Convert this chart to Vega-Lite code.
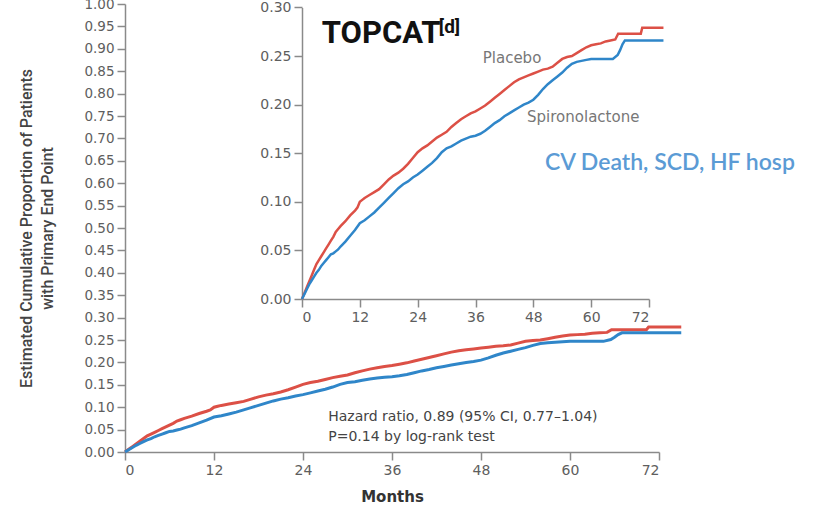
{
  "$schema": "https://vega.github.io/schema/vega-lite/v6.json",
  "width": 534,
  "height": 448,
  "autosize": {"type": "none"},
  "padding": {"left": 125, "top": 4, "right": 160, "bottom": 54},
  "background": "white",
  "config": {
    "view": {"stroke": null},
    "axis": {
      "grid": false,
      "domainColor": "#8a8a8a",
      "domainWidth": 1.5,
      "tickColor": "#8a8a8a",
      "tickWidth": 1.5,
      "tickSize": 8,
      "labelFont": "DejaVu Sans",
      "labelFontSize": 14,
      "labelColor": "#5e5e5e",
      "labelPadding": 3,
      "labelOverlap": false
    },
    "text": {"font": "DejaVu Sans"}
  },
  "datasets": {
    "km": [
      {"arm": "Placebo", "month": 0, "p": 0},
      {"arm": "Placebo", "month": 0.5, "p": 0.006},
      {"arm": "Placebo", "month": 1, "p": 0.012},
      {"arm": "Placebo", "month": 1.5, "p": 0.018},
      {"arm": "Placebo", "month": 2, "p": 0.024},
      {"arm": "Placebo", "month": 2.5, "p": 0.03},
      {"arm": "Placebo", "month": 3, "p": 0.036},
      {"arm": "Placebo", "month": 3.5, "p": 0.04},
      {"arm": "Placebo", "month": 4, "p": 0.044},
      {"arm": "Placebo", "month": 4.5, "p": 0.048},
      {"arm": "Placebo", "month": 5, "p": 0.052},
      {"arm": "Placebo", "month": 5.5, "p": 0.056},
      {"arm": "Placebo", "month": 6, "p": 0.06},
      {"arm": "Placebo", "month": 6.5, "p": 0.064},
      {"arm": "Placebo", "month": 7, "p": 0.069},
      {"arm": "Placebo", "month": 7.5, "p": 0.072},
      {"arm": "Placebo", "month": 8, "p": 0.075},
      {"arm": "Placebo", "month": 9, "p": 0.08},
      {"arm": "Placebo", "month": 10, "p": 0.086},
      {"arm": "Placebo", "month": 11, "p": 0.091},
      {"arm": "Placebo", "month": 11.5, "p": 0.094},
      {"arm": "Placebo", "month": 12, "p": 0.1},
      {"arm": "Placebo", "month": 12.5, "p": 0.102},
      {"arm": "Placebo", "month": 13, "p": 0.104},
      {"arm": "Placebo", "month": 14, "p": 0.107},
      {"arm": "Placebo", "month": 15, "p": 0.11},
      {"arm": "Placebo", "month": 16, "p": 0.113},
      {"arm": "Placebo", "month": 17, "p": 0.118},
      {"arm": "Placebo", "month": 18, "p": 0.123},
      {"arm": "Placebo", "month": 19, "p": 0.127},
      {"arm": "Placebo", "month": 20, "p": 0.13},
      {"arm": "Placebo", "month": 21, "p": 0.134},
      {"arm": "Placebo", "month": 22, "p": 0.139},
      {"arm": "Placebo", "month": 23, "p": 0.145},
      {"arm": "Placebo", "month": 24, "p": 0.151},
      {"arm": "Placebo", "month": 25, "p": 0.155},
      {"arm": "Placebo", "month": 26, "p": 0.158},
      {"arm": "Placebo", "month": 27, "p": 0.162},
      {"arm": "Placebo", "month": 28, "p": 0.166},
      {"arm": "Placebo", "month": 29, "p": 0.169},
      {"arm": "Placebo", "month": 30, "p": 0.172},
      {"arm": "Placebo", "month": 31, "p": 0.177},
      {"arm": "Placebo", "month": 32, "p": 0.181},
      {"arm": "Placebo", "month": 33, "p": 0.185},
      {"arm": "Placebo", "month": 34, "p": 0.188},
      {"arm": "Placebo", "month": 35, "p": 0.191},
      {"arm": "Placebo", "month": 36, "p": 0.193},
      {"arm": "Placebo", "month": 37, "p": 0.196},
      {"arm": "Placebo", "month": 38, "p": 0.199},
      {"arm": "Placebo", "month": 39, "p": 0.203},
      {"arm": "Placebo", "month": 40, "p": 0.207},
      {"arm": "Placebo", "month": 41, "p": 0.211},
      {"arm": "Placebo", "month": 42, "p": 0.215},
      {"arm": "Placebo", "month": 43, "p": 0.219},
      {"arm": "Placebo", "month": 44, "p": 0.223},
      {"arm": "Placebo", "month": 45, "p": 0.226},
      {"arm": "Placebo", "month": 46, "p": 0.228},
      {"arm": "Placebo", "month": 47, "p": 0.23},
      {"arm": "Placebo", "month": 48, "p": 0.232},
      {"arm": "Placebo", "month": 49, "p": 0.234},
      {"arm": "Placebo", "month": 50, "p": 0.236},
      {"arm": "Placebo", "month": 51, "p": 0.237},
      {"arm": "Placebo", "month": 52, "p": 0.239},
      {"arm": "Placebo", "month": 53, "p": 0.243},
      {"arm": "Placebo", "month": 54, "p": 0.247},
      {"arm": "Placebo", "month": 55, "p": 0.249},
      {"arm": "Placebo", "month": 56, "p": 0.25},
      {"arm": "Placebo", "month": 57, "p": 0.253},
      {"arm": "Placebo", "month": 58, "p": 0.256},
      {"arm": "Placebo", "month": 59, "p": 0.259},
      {"arm": "Placebo", "month": 60, "p": 0.261},
      {"arm": "Placebo", "month": 61, "p": 0.262},
      {"arm": "Placebo", "month": 62, "p": 0.263},
      {"arm": "Placebo", "month": 63, "p": 0.265},
      {"arm": "Placebo", "month": 64, "p": 0.266},
      {"arm": "Placebo", "month": 65, "p": 0.267},
      {"arm": "Placebo", "month": 65.6, "p": 0.273},
      {"arm": "Placebo", "month": 70.3, "p": 0.273},
      {"arm": "Placebo", "month": 70.6, "p": 0.279},
      {"arm": "Placebo", "month": 75, "p": 0.279},
      {"arm": "Spironolactone", "month": 0, "p": 0},
      {"arm": "Spironolactone", "month": 0.5, "p": 0.005},
      {"arm": "Spironolactone", "month": 1, "p": 0.01},
      {"arm": "Spironolactone", "month": 1.5, "p": 0.015},
      {"arm": "Spironolactone", "month": 2, "p": 0.019},
      {"arm": "Spironolactone", "month": 2.5, "p": 0.023},
      {"arm": "Spironolactone", "month": 3, "p": 0.027},
      {"arm": "Spironolactone", "month": 3.5, "p": 0.03},
      {"arm": "Spironolactone", "month": 4, "p": 0.034},
      {"arm": "Spironolactone", "month": 4.5, "p": 0.037},
      {"arm": "Spironolactone", "month": 5, "p": 0.04},
      {"arm": "Spironolactone", "month": 5.5, "p": 0.043},
      {"arm": "Spironolactone", "month": 6, "p": 0.046},
      {"arm": "Spironolactone", "month": 6.5, "p": 0.047},
      {"arm": "Spironolactone", "month": 7, "p": 0.049},
      {"arm": "Spironolactone", "month": 7.5, "p": 0.051},
      {"arm": "Spironolactone", "month": 8, "p": 0.054},
      {"arm": "Spironolactone", "month": 9, "p": 0.059},
      {"arm": "Spironolactone", "month": 10, "p": 0.065},
      {"arm": "Spironolactone", "month": 11, "p": 0.071},
      {"arm": "Spironolactone", "month": 12, "p": 0.078},
      {"arm": "Spironolactone", "month": 13, "p": 0.081},
      {"arm": "Spironolactone", "month": 14, "p": 0.085},
      {"arm": "Spironolactone", "month": 15, "p": 0.089},
      {"arm": "Spironolactone", "month": 16, "p": 0.094},
      {"arm": "Spironolactone", "month": 17, "p": 0.099},
      {"arm": "Spironolactone", "month": 18, "p": 0.104},
      {"arm": "Spironolactone", "month": 19, "p": 0.109},
      {"arm": "Spironolactone", "month": 20, "p": 0.114},
      {"arm": "Spironolactone", "month": 21, "p": 0.118},
      {"arm": "Spironolactone", "month": 22, "p": 0.121},
      {"arm": "Spironolactone", "month": 23, "p": 0.125},
      {"arm": "Spironolactone", "month": 24, "p": 0.128},
      {"arm": "Spironolactone", "month": 25, "p": 0.132},
      {"arm": "Spironolactone", "month": 26, "p": 0.136},
      {"arm": "Spironolactone", "month": 27, "p": 0.14},
      {"arm": "Spironolactone", "month": 28, "p": 0.145},
      {"arm": "Spironolactone", "month": 29, "p": 0.151},
      {"arm": "Spironolactone", "month": 30, "p": 0.155},
      {"arm": "Spironolactone", "month": 31, "p": 0.157},
      {"arm": "Spironolactone", "month": 32, "p": 0.16},
      {"arm": "Spironolactone", "month": 33, "p": 0.163},
      {"arm": "Spironolactone", "month": 34, "p": 0.165},
      {"arm": "Spironolactone", "month": 35, "p": 0.167},
      {"arm": "Spironolactone", "month": 36, "p": 0.168},
      {"arm": "Spironolactone", "month": 37, "p": 0.17},
      {"arm": "Spironolactone", "month": 38, "p": 0.173},
      {"arm": "Spironolactone", "month": 39, "p": 0.177},
      {"arm": "Spironolactone", "month": 40, "p": 0.181},
      {"arm": "Spironolactone", "month": 41, "p": 0.184},
      {"arm": "Spironolactone", "month": 42, "p": 0.188},
      {"arm": "Spironolactone", "month": 43, "p": 0.191},
      {"arm": "Spironolactone", "month": 44, "p": 0.194},
      {"arm": "Spironolactone", "month": 45, "p": 0.197},
      {"arm": "Spironolactone", "month": 46, "p": 0.2},
      {"arm": "Spironolactone", "month": 47, "p": 0.202},
      {"arm": "Spironolactone", "month": 48, "p": 0.205},
      {"arm": "Spironolactone", "month": 49, "p": 0.21},
      {"arm": "Spironolactone", "month": 50, "p": 0.216},
      {"arm": "Spironolactone", "month": 51, "p": 0.221},
      {"arm": "Spironolactone", "month": 52, "p": 0.225},
      {"arm": "Spironolactone", "month": 53, "p": 0.229},
      {"arm": "Spironolactone", "month": 54, "p": 0.233},
      {"arm": "Spironolactone", "month": 55, "p": 0.238},
      {"arm": "Spironolactone", "month": 56, "p": 0.242},
      {"arm": "Spironolactone", "month": 57, "p": 0.244},
      {"arm": "Spironolactone", "month": 58, "p": 0.245},
      {"arm": "Spironolactone", "month": 59, "p": 0.246},
      {"arm": "Spironolactone", "month": 60, "p": 0.247},
      {"arm": "Spironolactone", "month": 64.5, "p": 0.247},
      {"arm": "Spironolactone", "month": 65.5, "p": 0.251},
      {"arm": "Spironolactone", "month": 66, "p": 0.256},
      {"arm": "Spironolactone", "month": 66.5, "p": 0.262},
      {"arm": "Spironolactone", "month": 67, "p": 0.266},
      {"arm": "Spironolactone", "month": 75, "p": 0.266}
    ],
    "stats": [
      {"month": 27.4, "p": 0.078, "label": "Hazard ratio, 0.89 (95% CI, 0.77\u20131.04)"},
      {"month": 27.4, "p": 0.0335, "label": "P=0.14 by log-rank test"}
    ],
    "armLabels": [
      {"month": 37.5, "p": 0.248, "label": "Placebo"},
      {"month": 46.7, "p": 0.187, "label": "Spironolactone"}
    ],
    "study": [{"month": 4.1, "p": 0.263, "label": "TOPCAT"}],
    "studyRef": [{"month": 28.4, "p": 0.274, "label": "[d]"}],
    "endpoint": [{"month": 50.4, "p": 0.14, "label": "CV Death, SCD, HF hosp"}]
  },
  "layer": [
    {
      "layer": [
        {
          "data": {"name": "km"},
          "mark": {"type": "line", "strokeWidth": 3},
          "encoding": {
            "x": {
              "field": "month", "type": "quantitative",
              "scale": {"domain": [0, 72], "nice": false},
              "axis": {
                "values": [0, 12, 24, 36, 48, 60, 72],
                "labelOverlap": false,
                "title": "Months",
                "titleFont": "DejaVu Sans",
                "titleFontSize": 15,
                "titleFontWeight": "bold",
                "titleColor": "#333333",
                "titlePadding": 12
              }
            },
            "y": {
              "field": "p", "type": "quantitative",
              "scale": {"domain": [0, 1], "nice": false},
              "axis": {
                "values": [0, 0.05, 0.1, 0.15, 0.2, 0.25, 0.3, 0.35, 0.4, 0.45, 0.5, 0.55, 0.6, 0.65, 0.7, 0.75, 0.8, 0.85, 0.9, 0.95, 1],
                "tickCount": 30,
                "labelOverlap": false,
                "labelBound": false,
                "labelFontSize": 13.5,
                "format": ".2f",
                "title": ["Estimated Cumulative Proportion of Patients", "with Primary End Point"],
                "titleFont": "Roboto",
                "titleFontSize": 16,
                "titleFontWeight": 500,
                "titleColor": "#444444",
                "titleLineHeight": 21,
                "titlePadding": 28
              }
            },
            "color": {
              "field": "arm", "type": "nominal",
              "scale": {"domain": ["Placebo", "Spironolactone"], "range": ["#dc5046", "#2f86c9"]},
              "legend": null
            }
          }
        },
        {
          "data": {"name": "stats"},
          "mark": {"type": "text", "align": "left", "baseline": "middle", "fontSize": 14, "color": "#444444"},
          "encoding": {
            "x": {"field": "month", "type": "quantitative"},
            "y": {"field": "p", "type": "quantitative"},
            "text": {"field": "label"}
          }
        }
      ]
    },
    {
      "layer": [
        {
          "data": {"name": "km"},
          "mark": {"type": "line", "strokeWidth": 2.5},
          "encoding": {
            "x": {
              "field": "month", "type": "quantitative",
              "scale": {"domain": [0, 72], "range": [177, 524], "nice": false},
              "axis": {"orient": "bottom", "offset": -153, "values": [0, 12, 24, 36, 48, 60, 72], "tickCount": 10, "labelOverlap": false, "title": null}
            },
            "y": {
              "field": "p", "type": "quantitative",
              "scale": {"domain": [0, 0.3], "range": [295, 3.4], "nice": false},
              "axis": {"orient": "left", "offset": -177, "values": [0, 0.05, 0.1, 0.15, 0.2, 0.25, 0.3], "tickCount": 10, "labelOverlap": false, "format": ".2f", "title": null}
            },
            "color": {
              "field": "arm", "type": "nominal",
              "scale": {"domain": ["Placebo", "Spironolactone"], "range": ["#dc5046", "#2f86c9"]},
              "legend": null
            }
          }
        },
        {
          "data": {"name": "armLabels"},
          "mark": {"type": "text", "align": "left", "baseline": "middle", "fontSize": 15, "color": "#777777"},
          "encoding": {
            "x": {"field": "month", "type": "quantitative"},
            "y": {"field": "p", "type": "quantitative"},
            "text": {"field": "label"}
          }
        },
        {
          "data": {"name": "study"},
          "mark": {"type": "text", "align": "left", "baseline": "alphabetic", "font": "Roboto", "fontSize": 31, "fontWeight": "bold", "color": "#111111"},
          "encoding": {
            "x": {"field": "month", "type": "quantitative"},
            "y": {"field": "p", "type": "quantitative"},
            "text": {"field": "label"}
          }
        },
        {
          "data": {"name": "studyRef"},
          "mark": {"type": "text", "align": "left", "baseline": "alphabetic", "font": "Roboto", "fontSize": 19, "fontWeight": "bold", "color": "#111111"},
          "encoding": {
            "x": {"field": "month", "type": "quantitative"},
            "y": {"field": "p", "type": "quantitative"},
            "text": {"field": "label"}
          }
        },
        {
          "data": {"name": "endpoint"},
          "mark": {"type": "text", "align": "left", "baseline": "middle", "font": "Lato", "fontSize": 23, "fontWeight": 600, "color": "#5b9bd5"},
          "encoding": {
            "x": {"field": "month", "type": "quantitative"},
            "y": {"field": "p", "type": "quantitative"},
            "text": {"field": "label"}
          }
        }
      ]
    }
  ],
  "resolve": {
    "scale": {"x": "independent", "y": "independent"},
    "axis": {"x": "independent", "y": "independent"}
  }
}
